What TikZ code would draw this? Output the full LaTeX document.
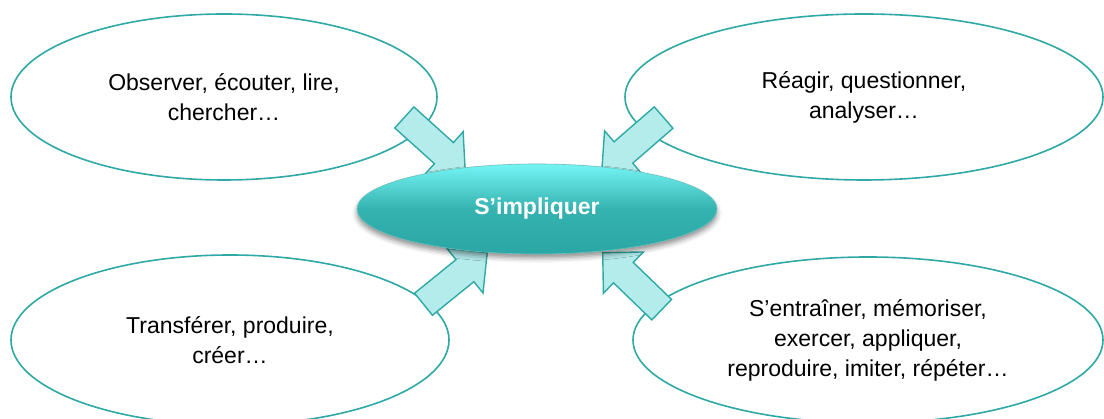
\documentclass[tikz,border=0pt]{standalone}
\usepackage{fontspec}
\setmainfont{Liberation Sans}
\usetikzlibrary{shapes.geometric,shapes.arrows,shadows.blur}

\definecolor{rim}{HTML}{2EA9A5}
\definecolor{pushfill}{HTML}{B3ECEB}
\definecolor{hubtop}{HTML}{74F5F5}
\definecolor{hubbottom}{HTML}{2AA7A4}

\begin{document}
\begin{tikzpicture}[
        x=1pt, y=1pt,
        bubble/.style={ellipse,draw=rim,line width=1.6pt,fill=white,inner sep=0pt,
            align=center,font=\fontsize{23}{30}\selectfont},
        hub/.style={ellipse,minimum width=360pt,minimum height=90pt,inner sep=0pt,
            top color=hubtop,bottom color=hubbottom,middle color=hubbottom!85!hubtop,
            draw=hubbottom!70!white,line width=0.6pt,text=white,
            font=\fontsize{23}{29}\selectfont\bfseries,
            blur shadow={shadow xshift=0pt,shadow yshift=-4pt,shadow blur radius=5pt,
                shadow opacity=45}},
        push/.style={single arrow,draw=rim,line width=1.4pt,fill=pushfill,
            minimum height=82pt,minimum width=0pt,inner xsep=0pt,inner ysep=13.5pt,
            single arrow head extend=14.5pt,anchor=tip,rotate=#1}
    ]
        \useasboundingbox (0,0) rectangle (1104,419);
        \coordinate (mid) at (537,210);

        \node [bubble,minimum width=426pt,minimum height=166pt] (observe) at (224,322)
            {Observer, écouter, lire,\\chercher…};
        \node [bubble,minimum width=478pt,minimum height=166pt] (react) at (864,322)
            {Réagir, questionner,\\analyser…};
        \node [bubble,minimum width=438pt,minimum height=170pt] (transfer) at (230,79)
            {Transférer, produire,\\créer…};
        \node [bubble,minimum width=470pt,minimum height=166pt] (train) at (868,79)
            {S’entraîner, mémoriser,\\exercer, appliquer,\\reproduire, imiter, répéter…};

        \node [push=-42]  (p1) at ([shift={(-71,36)}]mid) {};
        \node [push=-139] (p2) at ([shift={(64,37)}]mid) {};
        \node [push=39]   (p3) at ([shift={(-49,-43)}]mid) {};
        \node [push=136]  (p4) at ([shift={(65,-43)}]mid) {};

        \node [hub] (involve) at (mid) {S’impliquer};
    \end{tikzpicture}
\end{document}
